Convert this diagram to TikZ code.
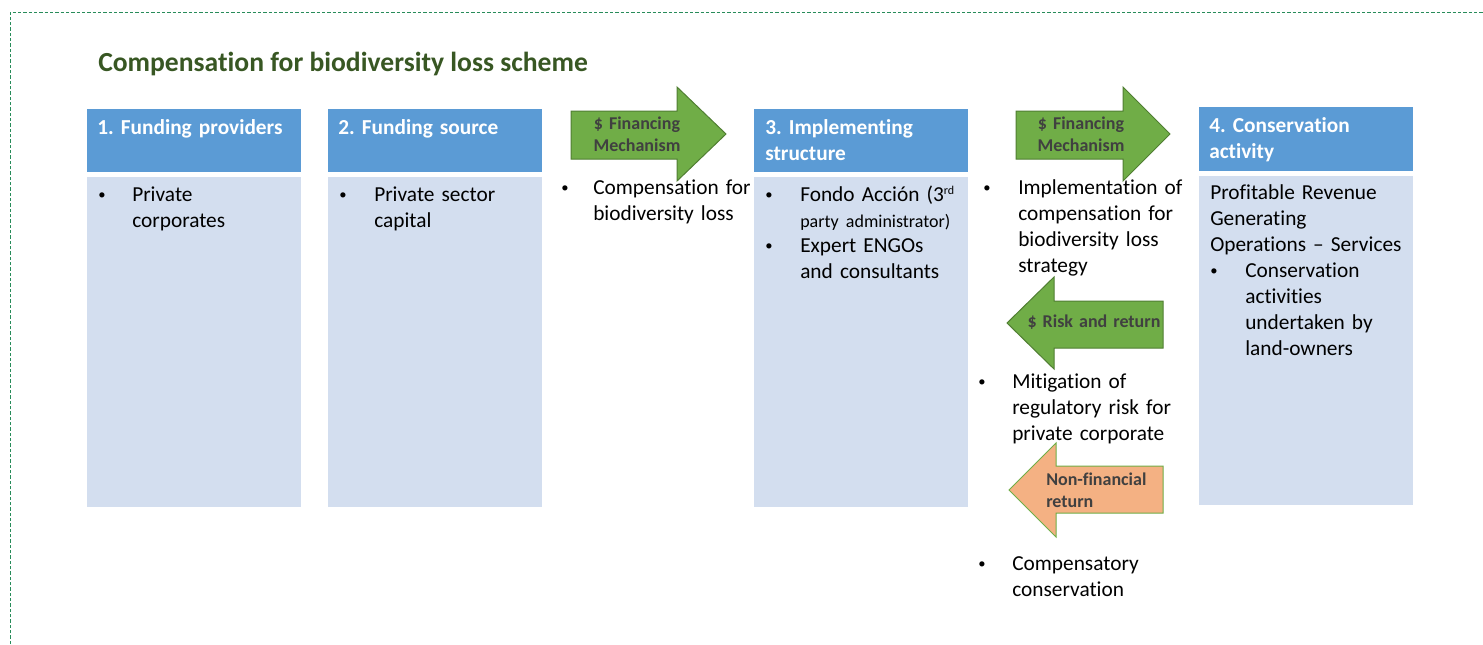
\documentclass[tikz,border=0pt]{standalone}
\usepackage{fontspec}
\setmainfont{Carlito}[Ligatures=NoCommon]
\usepackage{xcolor}
\definecolor{hdrblue}{RGB}{91,155,213}
\definecolor{bodyblue}{RGB}{211,222,239}
\definecolor{arrowgreen}{RGB}{112,173,71}
\definecolor{arrowedge}{RGB}{80,126,50}
\definecolor{arroworange}{RGB}{244,177,131}
\definecolor{titlegreen}{RGB}{56,87,35}
\definecolor{framegreen}{RGB}{40,140,90}
\definecolor{arrowtext}{RGB}{64,64,64}
\frenchspacing

\begin{document}
\begin{tikzpicture}[x=0.75pt,y=-0.75pt,
  hdrbox/.style={fill=hdrblue},
  bodybox/.style={fill=bodyblue},
  greenarrow/.style={fill=arrowgreen,draw=arrowedge,line width=0.75pt},
  orangearrow/.style={fill=arroworange,draw=arrowgreen,line width=0.75pt},
  hdrtext/.style={anchor=base west,inner sep=0pt,align=left,text width=200pt,text=white,font=\fontsize{16}{19.5}\selectfont\bfseries},
  bodytext/.style={anchor=base west,inner sep=0pt,align=left,text width=200pt,font=\fontsize{16}{19.5}\selectfont},
  bul/.style={anchor=base,inner sep=0pt,font=\fontsize{11}{13}\selectfont},
  arrowlabel/.style={anchor=base,inner sep=0pt,align=center,text width=110pt,text=arrowtext,font=\fontsize{13.5}{16.5}\selectfont\bfseries}]
  \useasboundingbox (0,0) rectangle (1483,644);
  % dashed frame
  \draw[framegreen,line width=0.75pt,dash pattern=on 2.5pt off 1.5pt] (10,644) -- (10,12) -- (1483,12);
  \node[anchor=base west,inner sep=0pt,text=titlegreen,font=\fontsize{20.7}{24}\selectfont\bfseries] (title) at (98,71) {Compensation for biodiversity loss scheme};

  % boxes
  \fill[hdrbox] (87,109) rectangle (301,172);
  \fill[bodybox] (87,177) rectangle (301,507);
  \fill[hdrbox] (328,109) rectangle (542,172);
  \fill[bodybox] (328,177) rectangle (542,507);
  \fill[hdrbox] (754,109) rectangle (968,172);
  \fill[bodybox] (754,177) rectangle (968,507);
  \fill[hdrbox] (1199,107) rectangle (1413,171);
  \fill[bodybox] (1199,176) rectangle (1413,505);

  % block arrows
  \filldraw[greenarrow] (571,111) -- (677,111) -- (677,87) -- (726,134) -- (677,181) -- (677,159) -- (571,159) -- cycle;
  \filldraw[greenarrow] (1016,111) -- (1123,111) -- (1123,87) -- (1170,134) -- (1123,181) -- (1123,159) -- (1016,159) -- cycle;
  \filldraw[greenarrow] (1163,301) -- (1054,301) -- (1054,277) -- (1007,323) -- (1054,369) -- (1054,348) -- (1163,348) -- cycle;
  \filldraw[orangearrow] (1163,466) -- (1056,466) -- (1056,443) -- (1009,490) -- (1056,537) -- (1056,513) -- (1163,513) -- cycle;

  % headers
  \node[hdrtext] (h1) at (97,134) {1. Funding providers};
  \node[hdrtext] (h2) at (338,134) {2. Funding source};
  \node[hdrtext] (h3) at (765,134) {3. Implementing\\structure};
  \node[hdrtext] (h4) at (1209,132) {4. Conservation\\activity};

  % box contents
  \node[bul] (b1) at (102,199) {\textbullet};
  \node[bodytext] (t1) at (132,201) {Private\\corporates};
  \node[bul] (b2) at (343,199) {\textbullet};
  \node[bodytext] (t2) at (374,201) {Private sector\\capital};
  \node[bul] (b3a) at (769,199) {\textbullet};
  \node[bodytext] (t3a) at (800,201) {Fondo Acción (3{\fontsize{9}{10}\selectfont\raisebox{5pt}{rd}}\\{\fontsize{13.5}{19.5}\selectfont party administrator)}};
  \node[bul] (b3b) at (769,250) {\textbullet};
  \node[bodytext] (t3b) at (800,252) {Expert ENGOs\\and consultants};
  \node[bodytext] (t4a) at (1210,199) {Profitable Revenue\\Generating\\Operations – Services};
  \node[bul] (b4) at (1214,275) {\textbullet};
  \node[bodytext] (t4b) at (1245,277) {Conservation\\activities\\undertaken by\\land-owners};

  % arrow labels
  \node[arrowlabel] (fin1) at (637,129) {\$ Financing\\Mechanism};
  \node[arrowlabel] (fin2) at (1081,129) {\$ Financing\\Mechanism};
  \node[arrowlabel] (risk) at (1094,327) {\$ Risk and return};
  \node[arrowlabel,anchor=base west,align=left] (nonfin) at (1046,485) {Non-financial\\return};

  % flow notes
  \node[bul] (bf1) at (565,192) {\textbullet};
  \node[bodytext] (nf1) at (593,194) {Compensation for\\biodiversity loss};
  \node[bul] (bf2) at (987,192) {\textbullet};
  \node[bodytext] (nf2) at (1018,194) {Implementation of\\compensation for\\biodiversity loss\\strategy};
  \node[bul] (br) at (982,386) {\textbullet};
  \node[bodytext] (nr) at (1012,388) {Mitigation of\\regulatory risk for\\private corporate};
  \node[bul] (bn) at (982,568) {\textbullet};
  \node[bodytext] (nn) at (1012,570) {Compensatory\\conservation};
\end{tikzpicture}
\end{document}
